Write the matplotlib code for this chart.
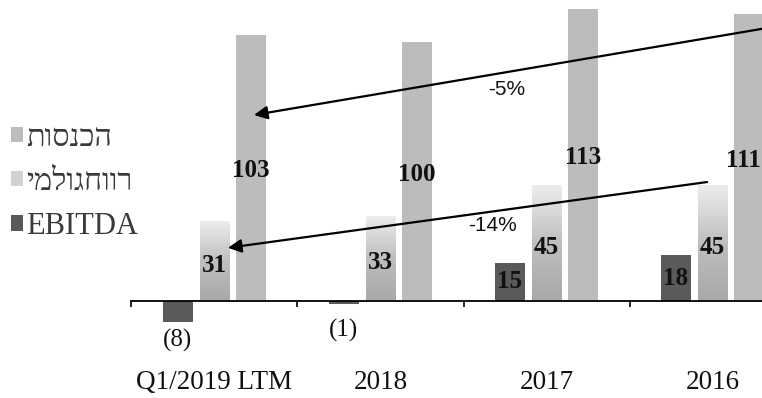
import numpy as np
import matplotlib
matplotlib.use("Agg")
import matplotlib.pyplot as plt
from matplotlib.patches import Patch
from matplotlib.colors import LinearSegmentedColormap

# ---- data ----
categories = ["Q1/2019 LTM", "2018", "2017", "2016"]
ebitda = [-8, -1, 15, 18]
gross_profit = [31, 33, 45, 45]
revenue = [103, 100, 113, 111]
series_names = ["הכנסות", "רווחגולמי", "EBITDA"]
cagr_revenue = "-5%"
cagr_gross = "-14%"

plt.rcParams['font.family'] = ['Liberation Serif', 'DejaVu Serif', 'DejaVu Sans']

fig = plt.figure(figsize=(7.62, 3.98), dpi=100)
ax = fig.add_axes([0, 0, 1, 1])

x = np.arange(len(categories))
w = 0.18
off = 0.22
c_ebitda = "#5a5a5a"
c_rev = "#bcbcbc"

b_e = ax.bar(x - off, ebitda, w, color=c_ebitda, zorder=2)
b_g = ax.bar(x, gross_profit, w, color="none", zorder=2)
b_r = ax.bar(x + off, revenue, w, color=c_rev, zorder=2)

# gradient fill for gross-profit bars (faded top)
grad = np.linspace(0, 1, 256).reshape(-1, 1)
cmap = LinearSegmentedColormap.from_list("g", ["#a8a8a8", "#bfbfbf", "#eeeeee"])
for rect in b_g:
    x0, y0 = rect.get_x(), rect.get_y()
    ww, hh = rect.get_width(), rect.get_height()
    im = ax.imshow(grad, cmap=cmap, aspect='auto', origin='lower',
                   extent=[x0, x0 + ww, y0, y0 + hh], zorder=2)
    im.set_clip_path(rect)

# spines / baseline
for s in ["top", "right", "left"]:
    ax.spines[s].set_visible(False)
ax.spines["bottom"].set_position(("data", 0))
ax.spines["bottom"].set_bounds(-0.5, 3.6)
ax.spines["bottom"].set_linewidth(1.3)
ax.spines["bottom"].set_zorder(3)
ax.set_yticks([])
ax.set_xticks(np.arange(len(categories)) - 0.5)
ax.set_xticklabels([])
ax.tick_params(axis='x', direction='out', length=4, width=1.2, color='black')

ax.set_xlim(-1.292, 3.298)
ax.set_ylim(-37.3, 116.4)
xmax = ax.get_xlim()[1]

# category labels
for i, c in enumerate(categories):
    ax.text(i, -31.5, c, ha='center', va='center', fontsize=19.5, color='#111111')

# value labels
lab_kw = dict(va='center', fontsize=18, fontweight='bold', color='#111111', zorder=4)
for i, v in enumerate(revenue):
    xc = i + off
    if xc + w / 2 > xmax:
        ax.text(xmax - 0.005, v / 2 - 1, str(v), ha='right', **lab_kw)
    else:
        ax.text(xc, v / 2 - 1, str(v), ha='center', **lab_kw)
for i, v in enumerate(gross_profit):
    ax.text(i, v / 2 - 1.5, str(v), ha='center', **lab_kw)
for i, v in enumerate(ebitda):
    if v >= 0:
        ax.text(i - off, v / 2, str(v), ha='center', **lab_kw)
    else:
        ax.text(i - off, 0.55 * v - 10.5, f"({-v})", ha='center', va='center',
                fontsize=18, color='#111111', zorder=4)

# CAGR arrows
arrow_kw = dict(arrowstyle='-|>', lw=1.6, color='black', mutation_scale=20,
                shrinkA=0, shrinkB=0)
ax.annotate("", xy=(0.238, 72.0), xytext=(3.467, 107.1), arrowprops=arrow_kw,
            zorder=5, annotation_clip=False)
ax.annotate("", xy=(0.081, 20.7), xytext=(2.967, 46.1), arrowprops=arrow_kw,
            zorder=5, annotation_clip=False)
ax.text(1.762, 82.0, cagr_revenue, ha='center', va='center', fontsize=15,
        family=['Liberation Sans', 'DejaVu Sans'], color='#111111')
ax.text(1.672, 29.2, cagr_gross, ha='center', va='center', fontsize=15,
        family=['Liberation Sans', 'DejaVu Sans'], color='#111111')

# legend (the scanned source shows the Hebrew glyphs in left-to-right order)
display_names = [n[::-1] if any('\u0590' <= ch <= '\u05ff' for ch in n) else n
                 for n in series_names]
handles = [Patch(facecolor=c_rev), Patch(facecolor="#d2d2d2"), Patch(facecolor=c_ebitda)]
leg = ax.legend(handles, display_names, loc='upper left',
                bbox_to_anchor=(0.014, 0.69), bbox_transform=fig.transFigure,
                frameon=False, fontsize=22, handlelength=0.4, handleheight=0.4,
                handletextpad=0.1, labelspacing=0.5, borderaxespad=0, borderpad=0)
for t in leg.get_texts():
    t.set_color('#3a3a3a')

fig.savefig("out.png", dpi=100)
